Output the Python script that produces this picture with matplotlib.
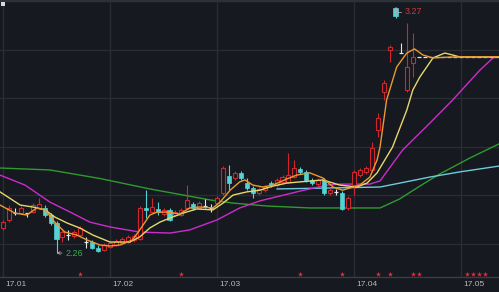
import matplotlib
matplotlib.use('Agg')
import matplotlib.pyplot as plt
from matplotlib.patches import Rectangle
from matplotlib.transforms import blended_transform_factory

# daily candles, day 0 = first trading day of 2017
opens = [2.363, 2.396, 2.424, 2.424, 2.424, 2.428, 2.445, 2.445, 2.416, 2.383,
         2.326, 2.334, 2.330, 2.334, 2.305, 2.305, 2.281, 2.272, 2.285, 2.293,
         2.301, 2.305, 2.314, 2.318, 2.445, 2.428, 2.441, 2.420, 2.437, 2.416,
         2.416, 2.445, 2.461, 2.445, 2.453, 2.445, 2.465, 2.506, 2.576, 2.568,
         2.589, 2.547, 2.527, 2.506, 2.518, 2.547, 2.539, 2.552, 2.552, 2.572,
         2.605, 2.593, 2.560, 2.543, 2.560, 2.506, 2.511, 2.506, 2.445, 2.539,
         2.580, 2.593, 2.601, 2.765, 2.921, 3.093, 3.266, 3.081, 2.929, 3.040,
         3.065, 3.065, 3.065, 3.065, 3.065, 3.065, 3.065, 3.065, 3.065, 3.065,
         3.065, 3.065, 3.065, 3.065]
highs = [2.396, 2.457, 2.445, 2.453, 2.424, 2.465, 2.486, 2.457, 2.424, 2.391,
         2.355, 2.355, 2.355, 2.371, 2.326, 2.314, 2.293, 2.301, 2.309, 2.318,
         2.326, 2.334, 2.338, 2.453, 2.518, 2.486, 2.469, 2.445, 2.445, 2.437,
         2.445, 2.539, 2.469, 2.474, 2.482, 2.461, 2.494, 2.617, 2.621, 2.597,
         2.597, 2.568, 2.535, 2.531, 2.539, 2.556, 2.568, 2.580, 2.671, 2.642,
         2.613, 2.601, 2.568, 2.568, 2.568, 2.527, 2.523, 2.514, 2.494, 2.601,
         2.609, 2.617, 2.716, 2.835, 2.970, 3.114, 3.270, 3.122, 3.204, 3.163,
         3.065, 3.065, 3.065, 3.065, 3.065, 3.065, 3.065, 3.065, 3.065, 3.065,
         3.065, 3.065, 3.065, 3.065]
lows = [2.355, 2.387, 2.416, 2.420, 2.408, 2.424, 2.441, 2.408, 2.375, 2.260,
        2.305, 2.314, 2.322, 2.330, 2.281, 2.277, 2.264, 2.268, 2.281, 2.289,
        2.297, 2.301, 2.305, 2.314, 2.404, 2.424, 2.416, 2.412, 2.391, 2.412,
        2.412, 2.441, 2.437, 2.441, 2.445, 2.428, 2.457, 2.498, 2.518, 2.560,
        2.560, 2.518, 2.486, 2.498, 2.511, 2.531, 2.531, 2.543, 2.547, 2.568,
        2.584, 2.552, 2.539, 2.535, 2.498, 2.498, 2.498, 2.437, 2.437, 2.498,
        2.572, 2.584, 2.593, 2.736, 2.888, 3.044, 3.225, 3.081, 2.921, 2.983,
        3.065, 3.065, 3.065, 3.065, 3.065, 3.065, 3.065, 3.065, 3.065, 3.065,
        3.065, 3.065, 3.065, 3.065]
closes = [2.387, 2.445, 2.424, 2.445, 2.424, 2.457, 2.461, 2.416, 2.383, 2.318,
          2.346, 2.334, 2.346, 2.363, 2.305, 2.281, 2.268, 2.293, 2.301, 2.309,
          2.318, 2.326, 2.330, 2.445, 2.437, 2.449, 2.428, 2.437, 2.396, 2.428,
          2.437, 2.478, 2.445, 2.465, 2.453, 2.445, 2.486, 2.609, 2.547, 2.589,
          2.568, 2.527, 2.506, 2.523, 2.531, 2.539, 2.560, 2.572, 2.580, 2.609,
          2.593, 2.560, 2.547, 2.560, 2.506, 2.518, 2.511, 2.441, 2.486, 2.593,
          2.601, 2.609, 2.691, 2.814, 2.958, 3.106, 3.233, 3.081, 3.024, 3.065,
          3.065, 3.065, 3.065, 3.065, 3.065, 3.065, 3.065, 3.065, 3.065, 3.065,
          3.065, 3.065, 3.065, 3.065]

# moving averages (day, price)
ma5_days = [-0.5, 2.0, 4.0, 5.7, 7.1, 8.7, 10.4, 12.4, 14.1, 16.3, 18.0, 19.7, 21.8, 23.0,
            24.7, 25.9, 27.6, 29.7, 31.4, 33.1, 35.3, 36.5, 38.2, 39.8, 40.7, 42.0, 43.7,
            45.4, 47.7, 49.4, 51.6, 53.8, 55.5, 57.1, 58.3, 60.0, 61.7, 62.9, 63.4, 64.5,
            66.2, 67.9, 69.2, 70.6, 72.3, 75.6, 83.4]
ma5 = [2.457, 2.424, 2.416, 2.445, 2.437, 2.387, 2.346, 2.334, 2.314, 2.293, 2.289, 2.293,
       2.314, 2.355, 2.416, 2.428, 2.428, 2.420, 2.445, 2.449, 2.445, 2.469, 2.518, 2.552,
       2.560, 2.539, 2.531, 2.539, 2.564, 2.580, 2.589, 2.568, 2.531, 2.518, 2.527, 2.539,
       2.572, 2.642, 2.695, 2.888, 3.024, 3.081, 3.098, 3.073, 3.061, 3.065, 3.065]
ma10_days = [-0.5, 2.9, 5.0, 7.1, 8.7, 10.8, 12.9, 15.1, 18.0, 19.2, 21.3, 23.0, 24.7, 26.4,
             28.1, 30.3, 32.6, 35.3, 37.0, 38.7, 41.0, 43.2, 45.4, 47.7, 49.9, 53.8, 56.6,
             59.5, 61.2, 62.9, 65.5, 67.9, 68.9, 70.1, 72.3, 74.3, 75.6, 76.8, 83.4]
ma10 = [2.511, 2.457, 2.449, 2.437, 2.408, 2.383, 2.363, 2.334, 2.305, 2.305, 2.305, 2.326,
        2.363, 2.387, 2.404, 2.424, 2.441, 2.437, 2.465, 2.498, 2.511, 2.518, 2.535, 2.547,
        2.552, 2.560, 2.539, 2.531, 2.547, 2.589, 2.695, 2.847, 2.929, 2.983, 3.061, 3.081,
        3.073, 3.065, 3.065]
ma20_days = [-0.5, 3.7, 7.9, 11.3, 14.6, 18.0, 23.0, 28.1, 31.4, 36.0, 39.8, 43.2, 49.9,
             54.5, 56.6, 61.7, 63.4, 67.2, 71.8, 75.6, 80.2, 82.4, 83.4]
ma20 = [2.580, 2.539, 2.469, 2.428, 2.387, 2.367, 2.346, 2.342, 2.355, 2.396, 2.445, 2.474,
        2.514, 2.539, 2.543, 2.543, 2.556, 2.683, 2.794, 2.888, 3.011, 3.061, 3.065]
ma60_days = [-0.5, 7.9, 16.3, 24.7, 30.3, 34.8, 38.7, 44.4, 51.6, 63.4, 66.7, 70.1, 73.4,
             78.5, 83.4]
ma60 = [2.609, 2.601, 2.566, 2.523, 2.498, 2.478, 2.465, 2.453, 2.445, 2.445, 2.482, 2.535,
        2.584, 2.650, 2.708]
ma120_days = [46.1, 63.4, 66.7, 71.8, 76.8, 83.4]
ma120 = [2.523, 2.531, 2.547, 2.572, 2.593, 2.617]

month_starts = [0, 18, 36, 59, 77]
month_labels = ['17.01', '17.02', '17.03', '17.04', '17.05']
star_days = [13, 30, 50, 57, 63, 65, 69, 70, 78, 79, 80, 81]
low_day, low_price = 9, 2.26
high_day, high_price = 66, 3.27

bg = '#16191f'
grid_c = '#2a2d34'
up_c = '#d0262e'
down_c = '#54d2d4'
doji_c = '#e6e6e6'

fig = plt.figure(figsize=(4.99, 2.92), dpi=100, facecolor=bg)
ax = fig.add_axes([0, 15 / 292, 1, 277 / 292], facecolor=bg)
ax.set_xlim(-0.5, 83.4)
ax.set_ylim(2.1616, 3.2987)

for y in [3.093, 2.896, 2.695, 2.498, 2.297]:
    ax.axhline(y, color=grid_c, lw=1, zorder=0)
for d in month_starts:
    ax.axvline(d, color=grid_c, lw=1, zorder=0)

# moving average lines
ax.plot(ma60_days, ma60, color='#2e9b30', lw=1.0, zorder=2)
ax.plot(ma120_days, ma120, color='#6ccbdc', lw=1.0, zorder=2)
ax.plot(ma20_days, ma20, color='#cc2ccc', lw=1.0, zorder=2)

w = 0.68
for i in range(len(closes)):
    o, h, l, c = opens[i], highs[i], lows[i], closes[i]
    if c > o:
        ax.vlines(i, c, h, color=up_c, lw=0.8, zorder=3)
        ax.vlines(i, l, o, color=up_c, lw=0.8, zorder=3)
        ax.add_patch(Rectangle((i - w / 2, o), w, c - o, facecolor=bg,
                               edgecolor=up_c, lw=0.8, zorder=3))
    elif c < o:
        ax.vlines(i, l, h, color=down_c, lw=0.8, zorder=3)
        ax.add_patch(Rectangle((i - w / 2, c), w, o - c, facecolor=down_c,
                               edgecolor=down_c, lw=0.5, zorder=3))
    else:
        ax.vlines(i, l, h, color=doji_c, lw=0.8, zorder=3)
        ax.hlines(c, i - w / 2, i + w / 2, color=doji_c, lw=0.9, zorder=3)

ax.plot(ma10_days, ma10, color='#e6d86a', lw=1.0, zorder=4)
ax.plot(ma5_days, ma5, color='#eb9a2e', lw=1.0, zorder=4)

# high / low markers
ax.annotate('2.26', xy=(low_day, low_price), xytext=(6.5, 0), textcoords='offset points',
            color='#2fb04c', fontsize=6.5, family='Liberation Sans', ha='left', va='center',
            arrowprops=dict(arrowstyle='->', color='#a8a8a8', lw=0.6, shrinkA=0.5, shrinkB=0,
                            mutation_scale=5), zorder=5)
ax.annotate('3.27', xy=(high_day, high_price), xytext=(6.5, -3.6), textcoords='offset points',
            color='#d03838', fontsize=6.5, family='Liberation Sans', ha='left', va='center',
            arrowprops=dict(arrowstyle='->', color='#a8a8a8', lw=0.6, shrinkA=0.5, shrinkB=0,
                            mutation_scale=5, connectionstyle='angle,angleA=0,angleB=90'),
            zorder=5)

# signal stars along the bottom
bt = blended_transform_factory(ax.transData, ax.transAxes)
ax.scatter(star_days, [0.011] * len(star_days), transform=bt, marker='*', s=15,
           color='#e0303a', linewidths=0, zorder=5, clip_on=False)

for d, lab in zip(month_starts, month_labels):
    ax.text(d + 0.35, -0.026, lab, transform=bt, color='#b8b8b8', fontsize=6,
            family='Liberation Sans', ha='left', va='center', clip_on=False)

ax.set_xticks([])
ax.set_yticks([])
for s in ['left', 'right']:
    ax.spines[s].set_visible(False)
ax.spines['bottom'].set_color('#3a3d44')
ax.spines['bottom'].set_linewidth(1)
ax.spines['top'].set_color('#2c3037')
ax.spines['top'].set_linewidth(2.5)

# small corner icon
fig.patches.append(Rectangle((1 / 499, 286 / 292), 4 / 499, 4 / 292, transform=fig.transFigure,
                             facecolor='#d8d8d8', edgecolor='none'))

fig.savefig('out.png', dpi=100, facecolor=bg)
